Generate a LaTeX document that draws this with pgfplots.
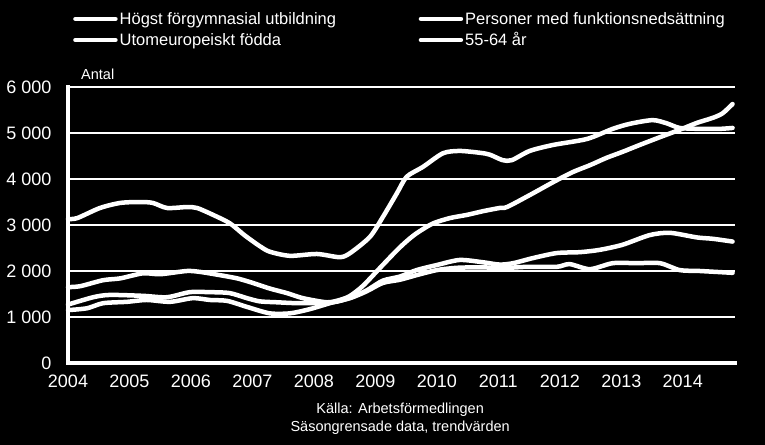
\documentclass[border=0pt]{standalone}
\usepackage{fontspec}
\setmainfont{Liberation Sans}
\usepackage{pgfplots}
\pgfplotsset{compat=1.18}
\tikzset{myline/.style={white, line width=4.5bp, line cap=round, line join=round, mark=none, smooth, tension=0.45}}
\begin{document}
\begin{tikzpicture}
\path[fill=black, use as bounding box] (-68bp,-82bp) rectangle (697bp,363bp);
\begin{axis}[
  at={(0,0)}, anchor=south west,
  scale only axis, width=667bp, height=276bp,
  xmin=2004, xmax=2014.85, ymin=0, ymax=6000,
  axis x line*=bottom, axis y line*=left,
  axis line style={draw=none},
  ytick={0,1000,2000,3000,4000,5000,6000},
  yticklabels={0,1 000,2 000,3 000,4 000,5 000,6 000},
  xtick={2004,2005,2006,2007,2008,2009,2010,2011,2012,2013,2014},
  xticklabels={2004,2005,2006,2007,2008,2009,2010,2011,2012,2013,2014},
  major tick length=0pt,
  ymajorgrids, grid style={white, line width=1.3bp},
  ticklabel style={text=white, font=\fontsize{18bp}{21bp}\selectfont},
  yticklabel style={xshift=-13bp},
  xticklabel style={yshift=-8.5bp},
  clip=false,
  legend columns=2,
  legend cell align=left,
  legend style={draw=none, fill=none, text=white,
    at={(rel axis cs:0.0075,1.279)}, anchor=north west,
    font=\fontsize{16.5bp}{19bp}\selectfont,
    inner sep=0pt, row sep=3bp},
  legend image code/.code={\draw[white, line width=4.5bp, line cap=round] (0bp,0bp) -- (40bp,0bp);},
]
% Series 3 (middle in 2004)
\addplot[myline] coordinates {
(2004.00,1270) (2004.41,1430) (2004.68,1480) (2005.22,1460) (2005.61,1430)
(2005.98,1540) (2006.31,1540) (2006.63,1520) (2006.91,1410) (2007.12,1340)
(2007.40,1320) (2007.77,1300) (2008.31,1320) (2008.59,1420) (2008.86,1580)
(2009.12,1790) (2009.40,1880) (2009.67,2020) (2010.00,2130) (2010.37,2240)
(2010.75,2190) (2011.02,2140) (2011.24,2170) (2011.56,2280) (2011.95,2390)
(2012.33,2410) (2012.65,2460) (2013.02,2570) (2013.46,2780) (2013.79,2830)
(2014.23,2730) (2014.49,2700) (2014.81,2640)
};
\addlegendentry{\makebox[297bp][l]{Högst förgymnasial utbildning}}
% Series 2 (riser)
\addplot[myline] coordinates {
(2004.00,1650) (2004.20,1670) (2004.57,1800) (2004.85,1840) (2005.22,1950)
(2005.50,1930) (2005.93,2000) (2006.15,1980) (2006.47,1910) (2006.75,1840)
(2006.96,1760) (2007.28,1620) (2007.56,1520) (2007.82,1410) (2008.21,1320)
(2008.42,1370) (2008.59,1460) (2008.80,1680) (2009.07,2060) (2009.35,2450)
(2009.51,2650) (2009.67,2820) (2009.93,3030) (2010.21,3150) (2010.49,3220)
(2010.75,3300) (2011.02,3370) (2011.14,3390) (2011.51,3650) (2011.89,3930)
(2012.21,4150) (2012.49,4300) (2012.76,4460) (2013.02,4590) (2013.30,4740)
(2013.63,4910) (2013.95,5070) (2014.23,5220) (2014.49,5330) (2014.65,5430)
(2014.81,5630)
};
\addlegendentry{Personer med funktionsnedsättning}
% Series 1 (top)
\addplot[myline] coordinates {
(2004.00,3130) (2004.15,3150) (2004.52,3370) (2004.85,3480) (2005.17,3500)
(2005.38,3480) (2005.61,3370) (2005.93,3390) (2006.10,3370) (2006.36,3220)
(2006.63,3040) (2006.85,2800) (2006.96,2690) (2007.12,2540) (2007.28,2420)
(2007.61,2330) (2008.05,2370) (2008.42,2300) (2008.59,2390) (2008.91,2740)
(2009.12,3170) (2009.35,3690) (2009.51,4050) (2009.77,4260) (2010.10,4560)
(2010.37,4610) (2010.70,4570) (2010.86,4530) (2011.07,4410) (2011.22,4410)
(2011.51,4610) (2011.89,4740) (2012.44,4870) (2012.86,5090) (2013.14,5200)
(2013.51,5280) (2013.74,5210) (2013.95,5110) (2014.28,5090) (2014.60,5090)
(2014.81,5110)
};
\addlegendentry{Utomeuropeiskt födda}
% Series 4 (lowest in 2004)
\addplot[myline] coordinates {
(2004.00,1150) (2004.31,1190) (2004.57,1300) (2004.96,1330) (2005.28,1370)
(2005.66,1330) (2006.03,1410) (2006.31,1370) (2006.59,1350) (2006.91,1220)
(2007.28,1080) (2007.61,1080) (2007.93,1170) (2008.31,1320) (2008.59,1410)
(2008.86,1560) (2009.12,1740) (2009.40,1810) (2009.67,1910) (2010.00,2020)
(2010.33,2070) (2010.75,2080) (2011.02,2060) (2011.46,2090) (2011.95,2090)
(2012.16,2150) (2012.49,2040) (2012.86,2170) (2013.25,2170) (2013.63,2170)
(2013.95,2020) (2014.28,2000) (2014.81,1960)
};
\addlegendentry{55-64 år}
\addplot[white, line width=4bp, mark=none, line cap=rect] coordinates {(2004,6000) (2004,0) (2014.85,0)};
\node[anchor=west, text=white, font=\fontsize{14.5bp}{17bp}\selectfont, inner sep=0pt]
  at ([xshift=13bp, yshift=13bp]rel axis cs:0,1) {Antal};
\node[anchor=center, align=center, text=white, font=\fontsize{14.5bp}{18bp}\selectfont, inner sep=0pt]
  at ([yshift=-56bp]rel axis cs:0.498,0) {Källa: Arbetsförmedlingen\\Säsongrensade data, trendvärden};
\end{axis}
\end{tikzpicture}
\end{document}
